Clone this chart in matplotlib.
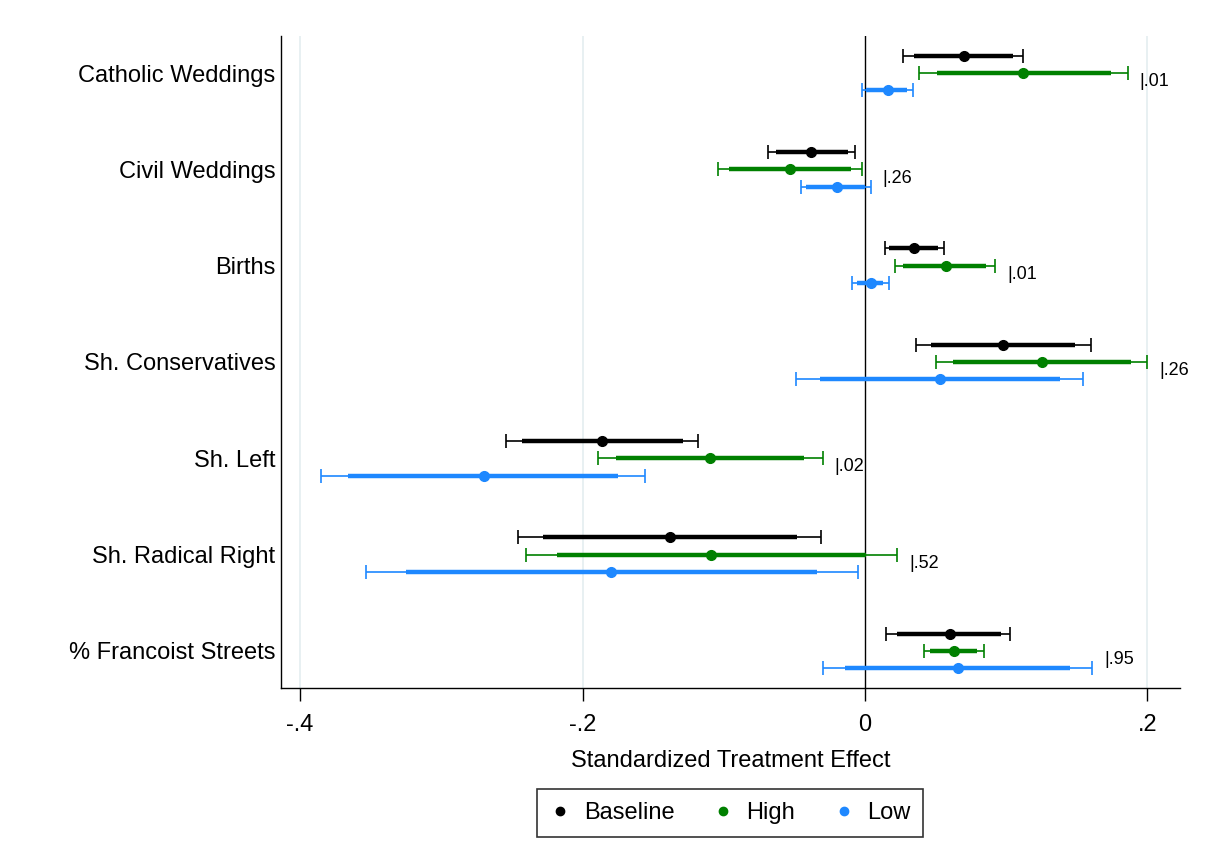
import numpy as np
import matplotlib
matplotlib.use("Agg")
import matplotlib.pyplot as plt
from matplotlib.lines import Line2D

# ================= DATA =================
categories = ["Catholic Weddings", "Civil Weddings", "Births", "Sh. Conservatives",
              "Sh. Left", "Sh. Radical Right", "% Francoist Streets"]
p_labels = [".01", ".26", ".01", ".26", ".02", ".52", ".95"]

# point estimate, 95% CI (lo, hi), 90% CI (lo, hi)
base_est = [0.070, -0.038, 0.035, 0.098, -0.186, -0.138, 0.060]
base_lo95 = [0.027, -0.069, 0.014, 0.036, -0.254, -0.246, 0.015]
base_hi95 = [0.112, -0.007, 0.056, 0.160, -0.118, -0.031, 0.103]
base_lo90 = [0.035, -0.063, 0.017, 0.047, -0.243, -0.228, 0.023]
base_hi90 = [0.105, -0.012, 0.052, 0.149, -0.129, -0.048, 0.096]

high_est = [0.112, -0.053, 0.057, 0.125, -0.110, -0.109, 0.063]
high_lo95 = [0.038, -0.104, 0.021, 0.050, -0.189, -0.240, 0.042]
high_hi95 = [0.186, -0.002, 0.092, 0.200, -0.030, 0.023, 0.084]
high_lo90 = [0.051, -0.096, 0.027, 0.062, -0.176, -0.218, 0.046]
high_hi90 = [0.174, -0.010, 0.086, 0.188, -0.043, 0.001, 0.079]

low_est = [0.016, -0.020, 0.004, 0.053, -0.270, -0.180, 0.066]
low_lo95 = [-0.002, -0.045, -0.009, -0.049, -0.385, -0.353, -0.030]
low_hi95 = [0.034, 0.004, 0.017, 0.154, -0.156, -0.005, 0.161]
low_lo90 = [0.001, -0.042, -0.006, -0.032, -0.366, -0.325, -0.014]
low_hi90 = [0.030, 0.000, 0.013, 0.138, -0.175, -0.034, 0.145]
# ========================================

plt.rcParams['font.family'] = ['Liberation Sans', 'DejaVu Sans']

fig = plt.figure(figsize=(12.09, 8.68), dpi=100)
ax = fig.add_axes([0.2324, 0.2074, 0.976 - 0.2324, 0.9585 - 0.2074])

n = len(categories)
pos = np.arange(n, 0, -1)  # top category at highest y
offset = 0.18

groups = [
    ("Baseline", "black", base_est, base_lo95, base_hi95, base_lo90, base_hi90, +offset),
    ("High", "#008000", high_est, high_lo95, high_hi95, high_lo90, high_hi90, 0.0),
    ("Low", "#1e88ff", low_est, low_lo95, low_hi95, low_lo90, low_hi90, -offset),
]

for name, col, est, lo95, hi95, lo90, hi90, off in groups:
    est = np.array(est)
    y = pos + off
    # 95% CI, thin with caps
    ax.errorbar(est, y, xerr=[est - np.array(lo95), np.array(hi95) - est],
                fmt="none", ecolor=col, elinewidth=1.2, capsize=5, capthick=1.2, zorder=3)
    # 90% CI, thick
    ax.hlines(y, lo90, hi90, color=col, linewidth=3.2, zorder=4)
    ax.plot(est, y, "o", color=col, markersize=7, zorder=5)

# p-value labels
for i in range(n):
    xmax = max(base_hi95[i], high_hi95[i], low_hi95[i])
    ax.text(xmax + 0.0085, pos[i] - 0.09, "|" + p_labels[i], fontsize=13,
            va="center", ha="left", color="black")

ax.axvline(0, color="black", linewidth=1.0, zorder=2)
for gx in [-0.4, -0.2, 0.2]:
    ax.axvline(gx, color="#e4eef0", linewidth=1.2, zorder=1)

ax.set_xlim(-0.4135, 0.223)
ax.set_ylim(0.616, n + 0.384)
ax.set_xticks([-0.4, -0.2, 0, 0.2])
ax.set_xticklabels(["-.4", "-.2", "0", ".2"], fontsize=17)
ax.set_yticks(pos)
ax.set_yticklabels(categories, fontsize=17)
ax.tick_params(axis="y", length=0, pad=4)
ax.tick_params(axis="x", length=9, width=1.0, pad=10)
ax.set_xlabel("Standardized Treatment Effect", fontsize=17, labelpad=10)

for s in ["top", "right"]:
    ax.spines[s].set_visible(False)
ax.spines["left"].set_linewidth(1.0)
ax.spines["bottom"].set_linewidth(1.0)

handles = [Line2D([], [], marker="o", linestyle="none", color=c, markersize=6)
           for c in ["black", "#008000", "#1e88ff"]]
leg = fig.legend(handles, ["Baseline", "High", "Low"], loc="center",
                 bbox_to_anchor=(0.6038, 0.0634), ncol=3, fontsize=17, frameon=True,
                 fancybox=False, edgecolor="black", handletextpad=0.55,
                 columnspacing=1.6, borderpad=0.55, handlelength=0.9,
                 borderaxespad=0)
leg.get_frame().set_linewidth(1.2)

fig.savefig("out.png", dpi=100)
